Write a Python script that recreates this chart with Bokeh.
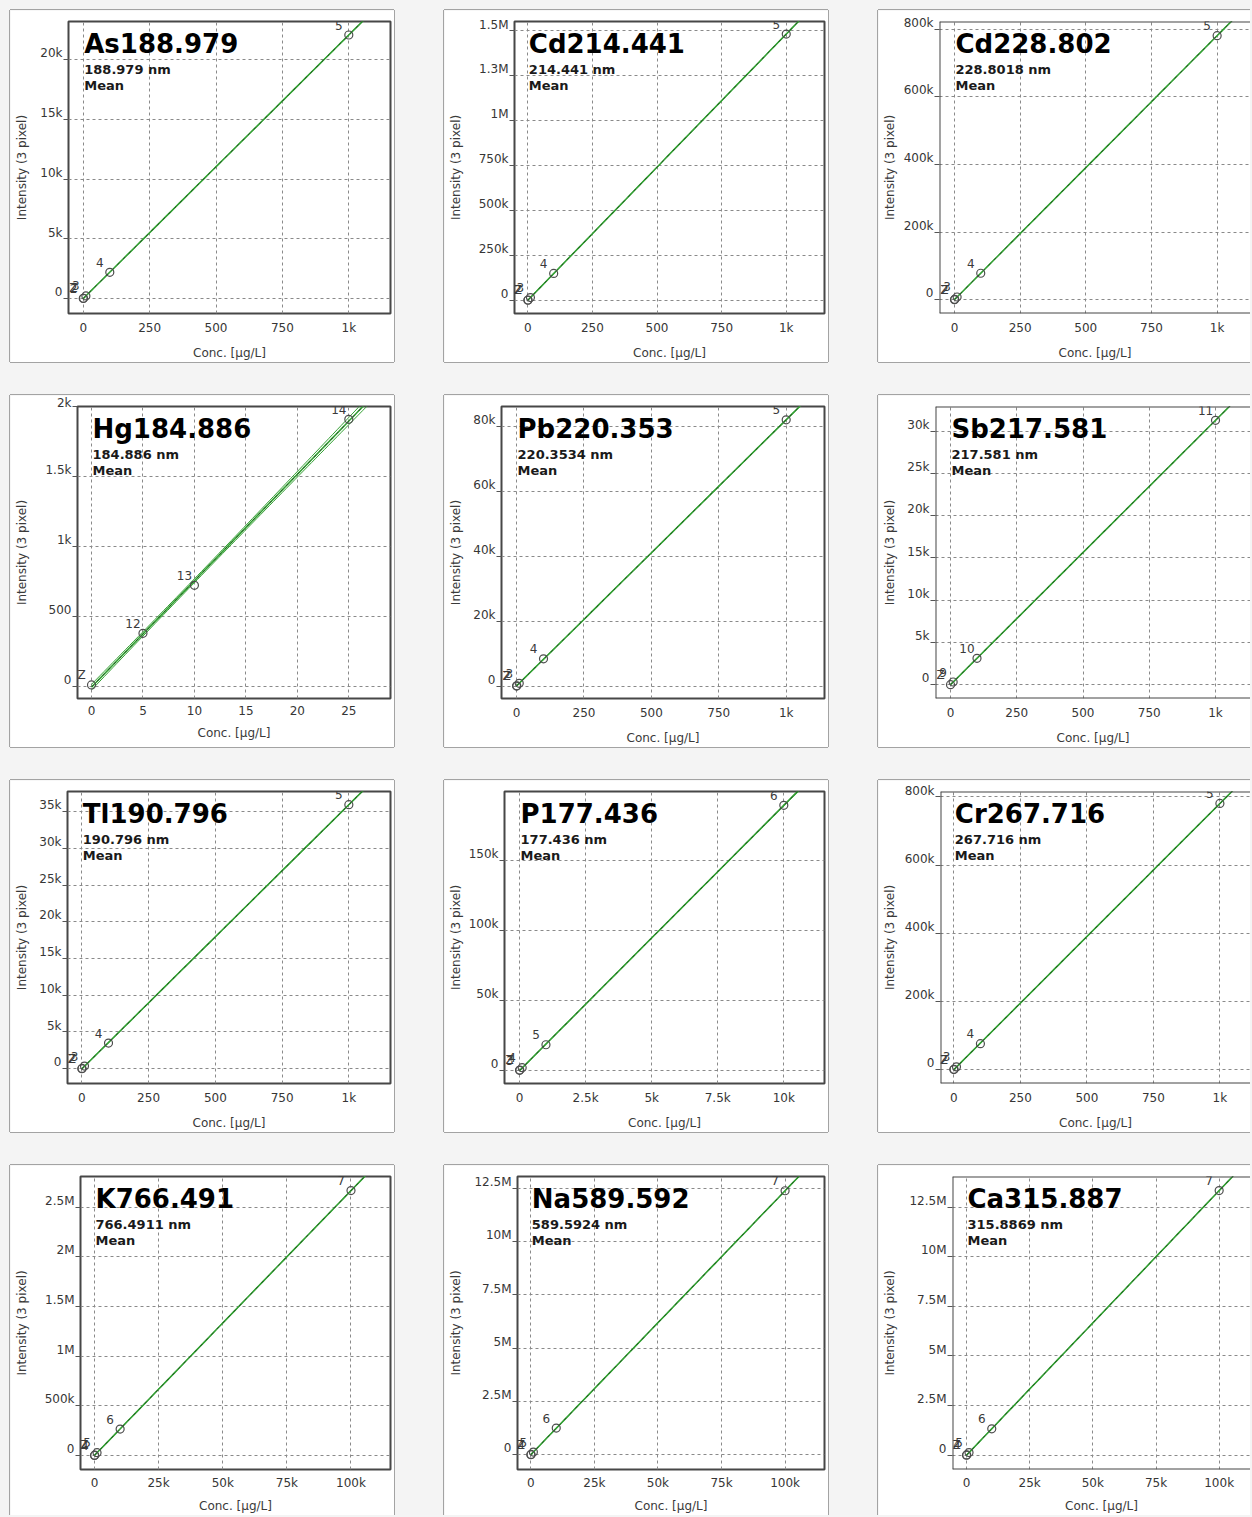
import numpy as np
from bokeh.plotting import figure
from bokeh.layouts import row, column
from bokeh.models import FixedTicker, Span, GlobalInlineStyleSheet
from bokeh.core.properties import value
from bokeh.embed import file_html
from bokeh.resources import INLINE

# ---------------- data ----------------
as_conc = [0, 1, 10, 100, 1000]
as_int = [10, 30, 225, 2200, 22050]
as_pts = ["Z", "2", "3", "4", "5"]

cd214_conc = [0, 1, 10, 100, 1000]
cd214_int = [0, 1500, 14800, 149500, 1482000]
cd214_pts = ["Z", "2", "3", "4", "5"]

cd228_conc = [0, 1, 10, 100, 1000]
cd228_int = [0, 780, 7800, 78000, 780500]
cd228_pts = ["Z", "2", "3", "4", "5"]

hg_conc = [0, 5, 10, 25]
hg_int = [10, 379, 722, 1908]
hg_pts = ["Z", "12", "13", "14"]

pb_conc = [0, 1, 10, 100, 1000]
pb_int = [0, 82, 830, 8400, 82100]
pb_pts = ["Z", "2", "3", "4", "5"]

sb_conc = [0, 10, 100, 1000]
sb_int = [0, 312, 3120, 31290]
sb_pts = ["Z", "9", "10", "11"]

tl_conc = [0, 1, 10, 100, 1000]
tl_int = [0, 36, 359, 3490, 35940]
tl_pts = ["Z", "2", "3", "4", "5"]

p_conc = [0, 10, 100, 1000, 10000]
p_int = [0, 190, 1900, 18300, 189500]
p_pts = ["Z", "3", "4", "5", "6"]

cr_conc = [0, 1, 10, 100, 1000]
cr_int = [0, 780, 7800, 76000, 781000]
cr_pts = ["Z", "2", "3", "4", "5"]

k_conc = [0, 100, 1000, 10000, 100000]
k_int = [0, 2700, 27000, 265000, 2666000]
k_pts = ["Z", "4", "5", "6", "7"]

na_conc = [0, 100, 1000, 10000, 100000]
na_int = [0, 12400, 124000, 1250000, 12390000]
na_pts = ["Z", "4", "5", "6", "7"]

ca_conc = [0, 100, 1000, 10000, 100000]
ca_int = [0, 13300, 133000, 1330000, 13330000]
ca_pts = ["Z", "4", "5", "6", "7"]

# tick values / labels
xt_1k = [0, 250, 500, 750, 1000]
xl_1k = ["0", "250", "500", "750", "1k"]
xt_hg = [0, 5, 10, 15, 20, 25]
xl_hg = ["0", "5", "10", "15", "20", "25"]
xt_p = [0, 2500, 5000, 7500, 10000]
xl_p = ["0", "2.5k", "5k", "7.5k", "10k"]
xt_100k = [0, 25000, 50000, 75000, 100000]
xl_100k = ["0", "25k", "50k", "75k", "100k"]

yt_as = [0, 5000, 10000, 15000, 20000]
yl_as = ["0", "5k", "10k", "15k", "20k"]
yt_cd214 = [0, 250000, 500000, 750000, 1000000, 1250000, 1500000]
yl_cd214 = ["0", "250k", "500k", "750k", "1M", "1.3M", "1.5M"]
yt_800k = [0, 200000, 400000, 600000, 800000]
yl_800k = ["0", "200k", "400k", "600k", "800k"]
yt_hg = [0, 500, 1000, 1500, 2000]
yl_hg = ["0", "500", "1k", "1.5k", "2k"]
yt_pb = [0, 20000, 40000, 60000, 80000]
yl_pb = ["0", "20k", "40k", "60k", "80k"]
yt_sb = [0, 5000, 10000, 15000, 20000, 25000, 30000]
yl_sb = ["0", "5k", "10k", "15k", "20k", "25k", "30k"]
yt_tl = [0, 5000, 10000, 15000, 20000, 25000, 30000, 35000]
yl_tl = ["0", "5k", "10k", "15k", "20k", "25k", "30k", "35k"]
yt_p = [0, 50000, 100000, 150000]
yl_p = ["0", "50k", "100k", "150k"]
yt_k = [0, 500000, 1000000, 1500000, 2000000, 2500000]
yl_k = ["0", "500k", "1M", "1.5M", "2M", "2.5M"]
yt_na = [0, 2500000, 5000000, 7500000, 10000000, 12500000]
yl_na = ["0", "2.5M", "5M", "7.5M", "10M", "12.5M"]

FONT = "DejaVu Sans"
GREEN = "#34a034"
BORDER = "#a3a3a3"

panels = [
    # row 1
    dict(name="As188.979", wl="188.979 nm", c=as_conc, i=as_int, pts=as_pts, xt=xt_1k, xl=xl_1k, yt=yt_as, yl=yl_as,
         xr=(-55.5, 1157), yr=(-1245, 23180), fl=58, st=8),
    dict(name="Cd214.441", wl="214.441 nm", c=cd214_conc, i=cd214_int, pts=cd214_pts, xt=xt_1k, xl=xl_1k, yt=yt_cd214, yl=yl_cd214,
         xr=(-51.6, 1148), yr=(-73700, 1552000), fl=70, st=13),
    dict(name="Cd228.802", wl="228.8018 nm", c=cd228_conc, i=cd228_int, pts=cd228_pts, xt=xt_1k, xl=xl_1k, yt=yt_800k, yl=yl_800k,
         xr=(-57, 1127), yr=(-41000, 822500), fl=61, st=4),
    # row 2
    dict(name="Hg184.886", wl="184.886 nm", c=hg_conc, i=hg_int, pts=hg_pts, xt=xt_hg, xl=xl_hg, yt=yt_hg, yl=yl_hg,
         xr=(-1.36, 29.05), yr=(-87, 2000), fl=67, st=13),
    dict(name="Pb220.353", wl="220.3534 nm", c=pb_conc, i=pb_int, pts=pb_pts, xt=xt_1k, xl=xl_1k, yt=yt_pb, yl=yl_pb,
         xr=(-55.8, 1142), yr=(-3840, 86200), fl=57, st=7),
    dict(name="Sb217.581", wl="217.581 nm", c=sb_conc, i=sb_int, pts=sb_pts, xt=xt_1k, xl=xl_1k, yt=yt_sb, yl=yl_sb,
         xr=(-56.6, 1132), yr=(-1640, 32930), fl=57, st=7),
    # row 3
    dict(name="Tl190.796", wl="190.796 nm", c=tl_conc, i=tl_int, pts=tl_pts, xt=xt_1k, xl=xl_1k, yt=yt_tl, yl=yl_tl,
         xr=(-53.6, 1156), yr=(-2010, 37730), fl=57, st=7),
    dict(name="P177.436", wl="177.436 nm", c=p_conc, i=p_int, pts=p_pts, xt=xt_p, xl=xl_p, yt=yt_p, yl=yl_p,
         xr=(-569, 11540), yr=(-9400, 199400), fl=60, st=3),
    dict(name="Cr267.716", wl="267.716 nm", c=cr_conc, i=cr_int, pts=cr_pts, xt=xt_1k, xl=xl_1k, yt=yt_800k, yl=yl_800k,
         xr=(-50, 1115), yr=(-41000, 816000), fl=62, st=5),
    # row 4
    dict(name="K766.491", wl="766.4911 nm", c=k_conc, i=k_int, pts=k_pts, xt=xt_100k, xl=xl_100k, yt=yt_k, yl=yl_k,
         xr=(-5450, 115400), yr=(-142000, 2808000), fl=70, st=13),
    dict(name="Na589.592", wl="589.5924 nm", c=na_conc, i=na_int, pts=na_pts, xt=xt_100k, xl=xl_100k, yt=yt_na, yl=yl_na,
         xr=(-5240, 115500), yr=(-694000, 13060000), fl=73, st=8),
    dict(name="Ca315.887", wl="315.8869 nm", c=ca_conc, i=ca_int, pts=ca_pts, xt=xt_100k, xl=xl_100k, yt=yt_na, yl=yl_na,
         xr=(-5540, 112400), yr=(-720000, 14040000), fl=74, st=9),
]


def make_panel(cfg, col, rw):
    last_col = col == 2
    last_row = rw == 3
    w = 372 if last_col else 384
    h = 350 if last_row else 352
    fl, ft = cfg["fl"], 11
    fr = 0 if last_col else 4
    fb = 44 if last_row else 47
    fh = h - ft - fb
    x0, x1 = cfg["xr"]
    y0, y1 = cfg["yr"]

    p = figure(width=w, height=h, x_range=cfg["xr"], y_range=cfg["yr"],
               output_backend="svg", toolbar_location=None,
               min_border_left=fl, min_border_right=fr, min_border_top=ft, min_border_bottom=fb,
               background_fill_color="white", border_fill_color="white")

    # axes
    xa = p.xaxis[0]
    ya = p.yaxis[0]
    xa.ticker = FixedTicker(ticks=cfg["xt"])
    ya.ticker = FixedTicker(ticks=cfg["yt"])
    xa.major_label_overrides = {t: l for t, l in zip(cfg["xt"], cfg["xl"])}
    # y labels sit on top of their tick mark: a blank second line lifts them
    ya.major_label_overrides = {t: l + "\n " for t, l in zip(cfg["yt"], cfg["yl"])}
    for ax in (xa, ya):
        ax.axis_line_color = None
        ax.minor_tick_line_color = None
        ax.major_label_text_font = FONT
        ax.major_label_text_font_size = "12px"
        ax.major_label_text_color = "#363636"
        ax.axis_label_text_font = FONT
        ax.axis_label_text_font_size = "12px"
        ax.axis_label_text_font_style = "normal"
        ax.axis_label_text_color = "#3a3a3a"
    ya.major_label_text_line_height = 0.9
    xa.major_tick_line_color = None
    xa.major_tick_out = 0
    xa.major_tick_in = 0
    xa.major_label_standoff = 6 if last_row else 7
    xa.axis_label = "Conc. [µg/L]"
    xa.axis_label_standoff = 6 if last_row else 8
    ya.major_tick_out = 5
    ya.major_tick_in = 0
    ya.major_tick_line_color = "#555555"
    ya.major_label_standoff = 1
    ya.axis_label = "Intensity (3 pixel)"
    ya.axis_label_standoff = cfg["st"]

    for g in (p.xgrid[0], p.ygrid[0]):
        g.grid_line_color = "#8a8a8a"
        g.grid_line_dash = "3 3"
        g.grid_line_width = 1

    # frame outline
    if last_col:
        p.outline_line_color = None
        for loc, dim in ((x0, "height"), (y0, "width"), (y1, "width")):
            p.add_layout(Span(location=loc, dimension=dim, line_color="#474747", line_width=2))
    else:
        p.outline_line_color = "#474747"
        p.outline_line_width = 2
        p.outline_line_alpha = 1

    # calibration fit with band
    xs = np.array(cfg["c"], dtype=float)
    ys = np.array(cfg["i"], dtype=float)
    slope, icpt = np.polyfit(xs, ys, 1)
    n = len(xs)
    xm = xs.mean()
    sxx = ((xs - xm) ** 2).sum()
    resid = ys - (icpt + slope * xs)
    s = np.sqrt((resid ** 2).sum() / (n - 2))
    xline = np.linspace(0, xs.max() * 1.3, 80)
    yline = icpt + slope * xline
    band = s * np.sqrt(1.0 / n + (xline - xm) ** 2 / sxx)
    p.line(xline, yline + band, line_color=GREEN, line_width=1)
    p.line(xline, yline - band, line_color=GREEN, line_width=1)
    p.line(xline, yline, line_color=GREEN, line_width=1.6)
    p.line(xline, yline, line_color="#1b3a1b", line_width=1, line_dash="3 5", line_alpha=0.7)

    # standards
    p.scatter(xs, ys, marker="circle", size=8, fill_color=None, line_color="#4d4d4d", line_width=1.2)
    p.text(xs, ys, text=cfg["pts"], x_offset=-10, y_offset=-10, text_align="center", text_baseline="middle",
           text_font=value(FONT), text_font_size="12px", text_color="#3a3a3a")

    # title block
    dy = (y1 - y0) / fh
    p.text([0], [y1 - 23 * dy], text=[cfg["name"]], x_offset=1, text_align="left", text_baseline="middle",
           text_font=value(FONT), text_font_size="26px", text_font_style="bold", text_color="#000000")
    p.text([0], [y1 - 48 * dy], text=[cfg["wl"]], x_offset=1, text_align="left", text_baseline="middle",
           text_font=value(FONT), text_font_size="13px", text_font_style="bold", text_color="#1a1a1a")
    p.text([0], [y1 - 64 * dy], text=["Mean"], x_offset=1, text_align="left", text_baseline="middle",
           text_font=value(FONT), text_font_size="13px", text_font_style="bold", text_color="#1a1a1a")

    # panel border
    shadows = ["-1px 0 0 0 " + BORDER, "0 -1px 0 0 " + BORDER]
    if not last_col:
        shadows.append("1px 0 0 0 " + BORDER)
    if not last_row:
        shadows.append("0 1px 0 0 " + BORDER)
    p.styles = {"box-shadow": ", ".join(shadows)}
    return p


figs = [make_panel(cfg, k % 3, k // 3) for k, cfg in enumerate(panels)]
rows = [row(*figs[r * 3:(r + 1) * 3], spacing=50) for r in range(4)]
layout = column(*rows, spacing=33,
                styles={"padding-left": "10px", "padding-top": "10px", "background-color": "#f4f4f4"},
                stylesheets=[GlobalInlineStyleSheet(css="body { background-color: #f4f4f4; }")])

open("out.html", "w").write(file_html(layout, INLINE))
